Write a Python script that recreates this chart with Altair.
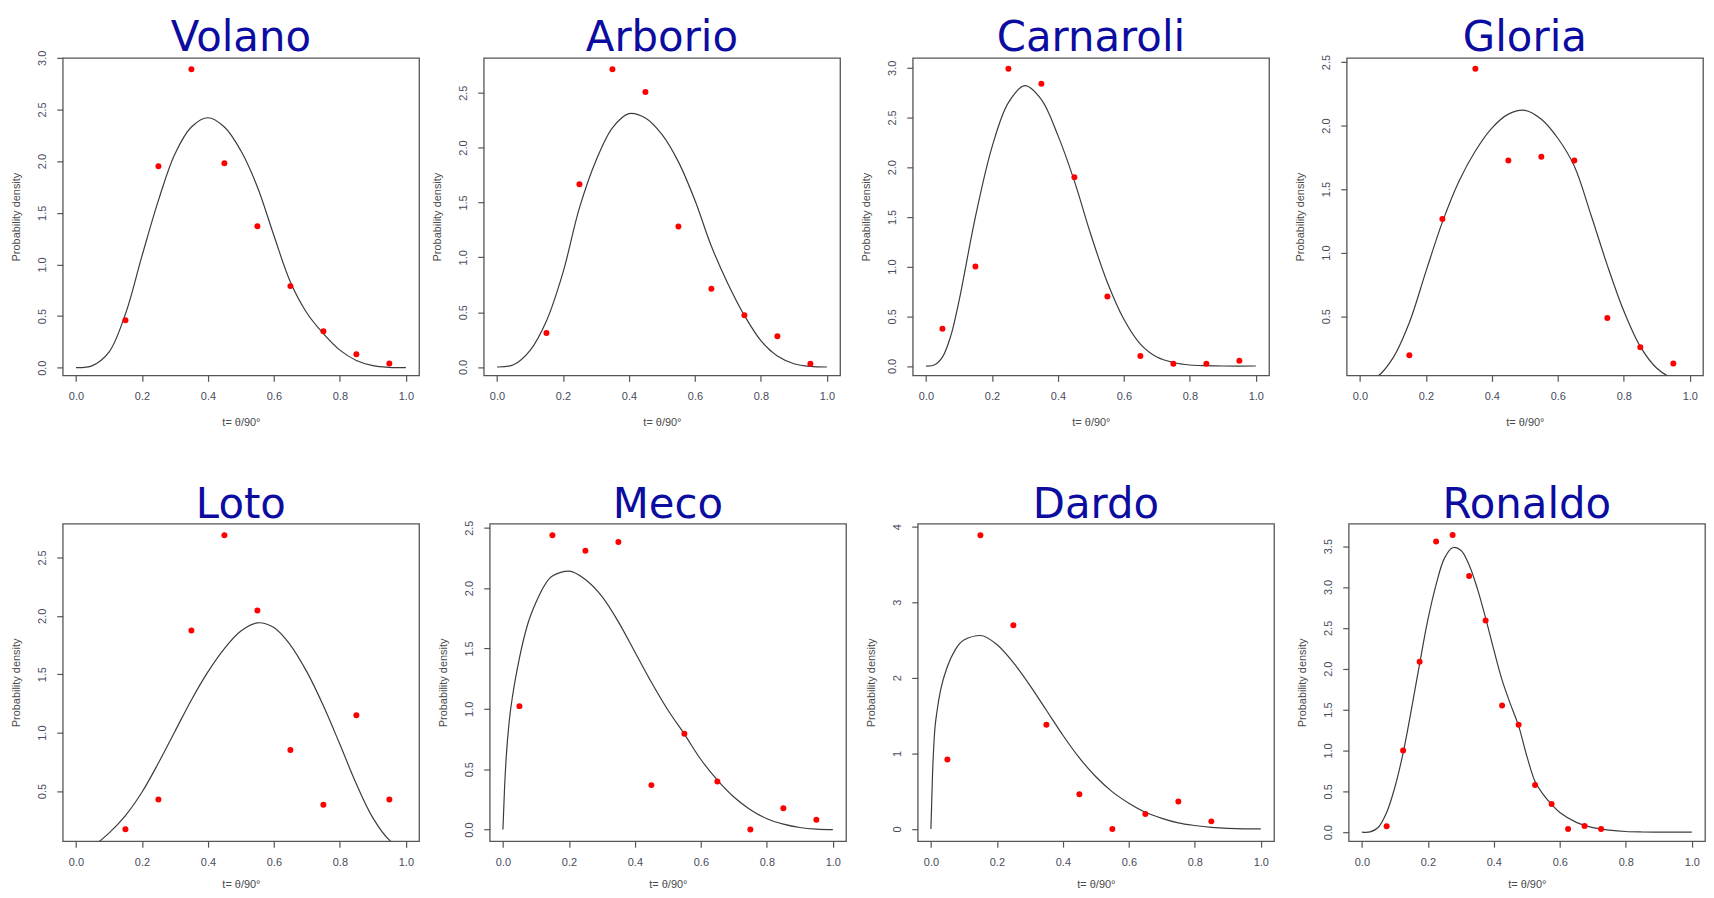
import altair as alt
import pandas as pd

# ---------------- data ----------------
names = ["Volano", "Arborio", "Carnaroli", "Gloria", "Loto", "Meco", "Dardo", "Ronaldo"]

pt_t10 = [0.15, 0.25, 0.35, 0.45, 0.55, 0.65, 0.75, 0.85, 0.95]
pt_t10b = [0.05, 0.15, 0.25, 0.35, 0.45, 0.55, 0.65, 0.75, 0.85, 0.95]
pt_t_dardo = [0.05, 0.15, 0.25, 0.35, 0.45, 0.55, 0.65, 0.75, 0.85]
pt_t_ronaldo = [0.075, 0.125, 0.175, 0.225, 0.275, 0.325, 0.375, 0.425,
                0.475, 0.525, 0.575, 0.625, 0.675, 0.725]

volano_obs = [0.46, 1.95, 2.89, 1.98, 1.37, 0.79, 0.354, 0.13, 0.04]
arborio_obs = [0.31, 1.665, 2.715, 2.506, 1.28, 0.714, 0.472, 0.28, 0.03]
carnaroli_obs = [0.375, 1.0, 2.99, 2.84, 1.90, 0.70, 0.10, 0.023, 0.023, 0.054]
gloria_obs = [0.193, 1.265, 2.447, 1.725, 1.754, 1.725, 0.486, 0.256, 0.128]
loto_obs = [0.173, 0.428, 1.875, 2.69, 2.045, 0.851, 0.383, 1.149, 0.428]
meco_obs = [1.022, 2.437, 2.308, 2.382, 0.368, 0.794, 0.398, 0.0, 0.176, 0.082]
dardo_obs = [0.92, 3.886, 2.694, 1.38, 0.46, 0.0, 0.197, 0.364, 0.10]
ronaldo_obs = [0.073, 1.0, 2.084, 3.556, 3.637, 3.135, 2.591, 1.549, 1.314,
               0.576, 0.345, 0.04, 0.077, 0.04]

fit_t20 = [0.0, 0.05, 0.1, 0.15, 0.2, 0.25, 0.3, 0.35, 0.4, 0.45, 0.5,
           0.55, 0.6, 0.65, 0.7, 0.75, 0.8, 0.85, 0.9, 0.95, 1.0]
volano_fit = [0.0, 0.02, 0.15, 0.52, 1.08, 1.62, 2.07, 2.33, 2.42, 2.33, 2.1,
              1.75, 1.28, 0.83, 0.53, 0.33, 0.17, 0.07, 0.02, 0.003, 0.0]
arborio_fit = [0.0, 0.02, 0.15, 0.42, 0.86, 1.45, 1.88, 2.18, 2.31, 2.27, 2.12,
               1.87, 1.52, 1.1, 0.76, 0.47, 0.24, 0.1, 0.03, 0.005, 0.0]
gloria_fit = [0.0, 0.02, 0.17, 0.45, 0.85, 1.24, 1.56, 1.8, 1.98, 2.09, 2.12,
              2.05, 1.9, 1.68, 1.3, 0.9, 0.54, 0.26, 0.09, 0.01, 0.0]
loto_fit = [0.0, 0.03, 0.14, 0.29, 0.49, 0.74, 1.01, 1.28, 1.52, 1.72, 1.87,
            1.94, 1.9, 1.75, 1.52, 1.23, 0.9, 0.56, 0.27, 0.08, 0.0]

carnaroli_fit_t = [0.0, 0.025, 0.05, 0.075, 0.1, 0.15, 0.2, 0.25, 0.3, 0.35, 0.4,
                   0.45, 0.5, 0.55, 0.6, 0.65, 0.7, 0.75, 0.8, 0.85, 0.9, 1.0]
carnaroli_fit = [0.0, 0.01, 0.09, 0.3, 0.65, 1.5, 2.2, 2.65, 2.82, 2.68, 2.32,
                 1.86, 1.32, 0.84, 0.47, 0.22, 0.09, 0.035, 0.01, 0.003, 0.0, 0.0]

skew_t = [0.0, 0.005, 0.01, 0.02, 0.03, 0.05, 0.075, 0.1, 0.15, 0.2, 0.25, 0.3,
          0.35, 0.4, 0.45, 0.5, 0.55, 0.6, 0.65, 0.7, 0.75, 0.8, 0.85, 0.9, 0.95, 1.0]
meco_fit = [0.0, 0.35, 0.6, 0.92, 1.12, 1.42, 1.7, 1.88, 2.1, 2.14, 2.07, 1.93,
            1.72, 1.47, 1.22, 0.99, 0.79, 0.58, 0.41, 0.27, 0.165, 0.09, 0.045,
            0.017, 0.004, 0.0]
dardo_fit = [0.0, 0.74, 1.2, 1.6, 1.85, 2.15, 2.38, 2.5, 2.56, 2.44, 2.2, 1.9,
             1.57, 1.24, 0.94, 0.69, 0.49, 0.34, 0.22, 0.14, 0.08, 0.045, 0.02,
             0.006, 0.001, 0.0]

ronaldo_fit_t = [0.0, 0.025, 0.05, 0.075, 0.1, 0.125, 0.15, 0.175, 0.2, 0.225,
                 0.25, 0.275, 0.3, 0.325, 0.35, 0.375, 0.4, 0.425, 0.45, 0.475,
                 0.5, 0.525, 0.55, 0.575, 0.6, 0.65, 0.7, 0.75, 0.8, 0.85, 0.9, 1.0]
ronaldo_fit = [0.0, 0.003, 0.06, 0.24, 0.55, 0.97, 1.5, 2.06, 2.6, 3.03, 3.35,
               3.48, 3.45, 3.27, 2.98, 2.62, 2.23, 1.86, 1.57, 1.3, 0.93, 0.62,
               0.46, 0.34, 0.24, 0.12, 0.055, 0.025, 0.008, 0.002, 0.0, 0.0]

x_ticks = [0.0, 0.2, 0.4, 0.6, 0.8, 1.0]
y_ticks = {
    "Volano": [0, 0.5, 1, 1.5, 2, 2.5, 3],
    "Arborio": [0, 0.5, 1, 1.5, 2, 2.5],
    "Carnaroli": [0, 0.5, 1, 1.5, 2, 2.5, 3],
    "Gloria": [0.5, 1, 1.5, 2, 2.5],
    "Loto": [0.5, 1, 1.5, 2, 2.5],
    "Meco": [0, 0.5, 1, 1.5, 2, 2.5],
    "Dardo": [0, 1, 2, 3, 4],
    "Ronaldo": [0, 0.5, 1, 1.5, 2, 2.5, 3, 3.5],
}
y_domain = {
    "Volano": [-0.074, 3.0],
    "Arborio": [-0.076, 2.818],
    "Carnaroli": [-0.094, 3.10],
    "Gloria": [0.034, 2.533],
    "Loto": [0.071, 2.789],
    "Meco": [-0.096, 2.533],
    "Dardo": [-0.162, 4.04],
    "Ronaldo": [-0.11, 3.775],
}

panels_data = {
    "Volano": (pt_t10, volano_obs, fit_t20, volano_fit),
    "Arborio": (pt_t10, arborio_obs, fit_t20, arborio_fit),
    "Carnaroli": (pt_t10b, carnaroli_obs, carnaroli_fit_t, carnaroli_fit),
    "Gloria": (pt_t10, gloria_obs, fit_t20, gloria_fit),
    "Loto": (pt_t10, loto_obs, fit_t20, loto_fit),
    "Meco": (pt_t10b, meco_obs, skew_t, meco_fit),
    "Dardo": (pt_t_dardo, dardo_obs, skew_t, dardo_fit),
    "Ronaldo": (pt_t_ronaldo, ronaldo_obs, ronaldo_fit_t, ronaldo_fit),
}

# ---------------- layout / style ----------------
W, H = 358, 319
extents_row1 = [54, 63, 71, 76]
extents_row2 = [53, 69, 70, 73]

TITLE_BLUE = "#0c0ca0"
AX = "#555555"
LAB = "#474b5c"
FONT = "Liberation Sans"


def panel(name, ext, title_off, xtitle_pad):
    pt_t, pt_d, ft, fd = panels_data[name]
    pts = pd.DataFrame({"t": pt_t, "d": pt_d})
    crv = pd.DataFrame({"t": ft, "d": fd})
    is_int = name == "Dardo"
    common = dict(
        grid=False, domain=False, tickSize=6, tickColor=AX, tickWidth=1.2,
        labelFont=FONT, labelFontSize=11, labelColor=LAB, labelPadding=9,
        labelFlush=False, labelOverlap=False,
        titleFont=FONT, titleFontSize=11, titleFontWeight="normal",
        titleColor="#4a4a4a",
    )
    xenc = alt.X(
        "t:Q",
        scale=alt.Scale(domain=[-0.04, 1.04], nice=False, zero=False),
        axis=alt.Axis(values=x_ticks, format=".1f", title="t= θ/90°",
                      titlePadding=xtitle_pad, **common),
    )
    yenc = alt.Y(
        "d:Q",
        scale=alt.Scale(domain=y_domain[name], nice=False, zero=False),
        axis=alt.Axis(
            values=y_ticks[name], format="d" if is_int else ".1f",
            title="Probability density",
            labelAngle=-90, labelAlign="center", labelBaseline="bottom",
            minExtent=ext, titleX=-41, titlePadding=0, **common,
        ),
    )
    interp = "monotone" if name in ("Meco", "Dardo") else "catmull-rom"
    line = alt.Chart(crv).mark_line(
        color="#3c3c3c", strokeWidth=1.2, interpolate=interp, clip=True
    ).encode(x=xenc, y=yenc)
    dots = alt.Chart(pts).mark_circle(
        color="#ff0000", size=36, opacity=1
    ).encode(x=xenc, y=yenc)
    head = alt.Chart(pd.DataFrame({"name": [name]})).mark_text(
        font="DejaVu Sans", fontSize=42, color=TITLE_BLUE, align="center",
        baseline="alphabetic",
    ).encode(text="name:N", x=alt.value(W / 2), y=alt.value(-title_off))
    return alt.layer(line, dots, head).properties(width=W, height=H)


row1 = alt.hconcat(
    *[panel(n, e, 7, 15) for n, e in zip(names[:4], extents_row1)], spacing=0
)
row2 = alt.hconcat(
    *[panel(n, e, 6, 12) for n, e in zip(names[4:], extents_row2)], spacing=0
)

chart = alt.vconcat(row1, row2, spacing=55).properties(
    padding={"left": 0, "top": 6, "right": 0, "bottom": 0},
    background="white",
).configure_view(stroke=AX, strokeWidth=1.3)

chart.save("out.html", embed_options={"renderer": "svg", "actions": False})
